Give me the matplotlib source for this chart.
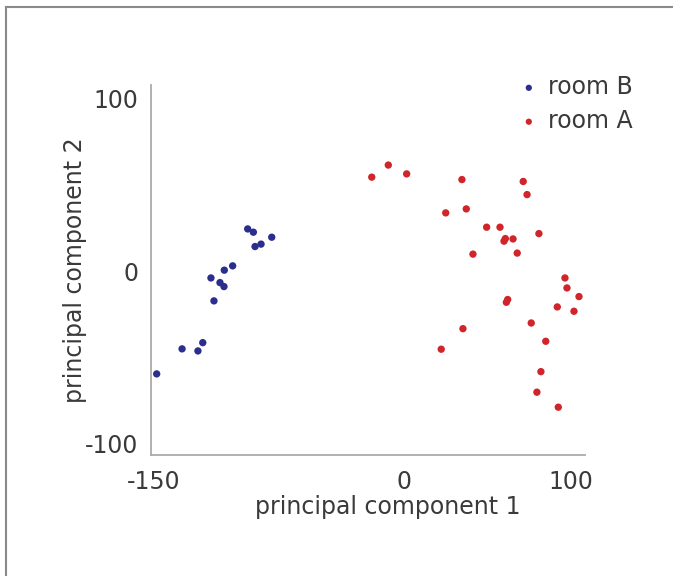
import numpy as np
import matplotlib
matplotlib.use("Agg")
import matplotlib.pyplot as plt
from matplotlib.lines import Line2D

# room B (blue) scores on the first two principal components
room_b_pc1 = [-148.1, -132.9, -123.4, -120.5, -113.8, -115.6, -110.2, -107.8,
              -107.6, -102.6, -93.6, -90.2, -89.2, -85.6, -79.2]
room_b_pc2 = [-59.4, -44.9, -46.1, -41.3, -17.1, -3.8, -6.5, -8.8,
              0.7, 3.2, 24.6, 22.7, 14.4, 15.8, 19.8]

# room A (red)
room_a_pc1 = [-19.3, -9.4, 1.6, 34.7, 71.4, 73.7, 25.0, 37.3, 49.5, 57.5,
              60.7, 59.9, 65.3, 80.8, 41.3, 67.8, 96.4, 97.6, 104.8, 91.8,
              101.8, 62.1, 61.3, 76.2, 35.3, 22.3, 84.9, 82.0, 79.6, 92.4]
room_a_pc2 = [54.6, 61.6, 56.5, 53.2, 52.1, 44.5, 33.9, 36.2, 25.6, 25.6,
              19.0, 17.5, 18.8, 21.9, 10.0, 10.6, -3.8, -9.6, -14.6, -20.6,
              -23.1, -16.3, -17.9, -29.9, -33.2, -45.1, -40.5, -58.1, -70.0, -78.7]

x_ticks = [-150, 0, 100]
y_ticks = [-100, 0, 100]

blue = "#2c2e8e"
red = "#d0252b"
text_col = "#3a3a3a"
axis_col = "#aaaaaa"

plt.rcParams["font.family"] = ["DejaVu Sans"]
plt.rcParams["axes.unicode_minus"] = False  # plain hyphen as in the original

fig = plt.figure(figsize=(6.73, 5.76), dpi=100)
ax = fig.add_axes([151 / 673, 1 - 455 / 576, 434 / 673, 370 / 576])

ax.scatter(room_b_pc1, room_b_pc2, s=28, color=blue, edgecolors="none", label="room B")
ax.scatter(room_a_pc1, room_a_pc2, s=28, color=red, edgecolors="none", label="room A")

ax.set_xlim(-151.5, 108.4)
ax.set_ylim(-106.4, 108)
ax.set_xticks(x_ticks)
ax.set_yticks(y_ticks)
ax.tick_params(length=0, labelsize=17, labelcolor=text_col)
ax.tick_params(axis="x", pad=11)
ax.tick_params(axis="y", pad=9)

for side in ["top", "right"]:
    ax.spines[side].set_visible(False)
for side in ["left", "bottom"]:
    ax.spines[side].set_color(axis_col)
    ax.spines[side].set_linewidth(1.3)

ax.set_xlabel("principal component 1", fontsize=17, color=text_col)
ax.set_ylabel("principal component 2", fontsize=17, color=text_col)
ax.xaxis.set_label_coords(0.546, -0.108)
ax.yaxis.set_label_coords(-0.147, 0.5)

ax.legend(loc="upper left", bbox_to_anchor=(517 / 673, 1 - 75 / 576),
          bbox_transform=fig.transFigure, frameon=False, fontsize=17,
          handlelength=1.0, handletextpad=0.3, labelspacing=0.42,
          borderpad=0, borderaxespad=0, markerscale=0.85, labelcolor=text_col)

# thin gray frame on the top and left edges of the picture
fig.add_artist(Line2D([6 / 673, 1], [1 - 7 / 576, 1 - 7 / 576],
                      transform=fig.transFigure, color="#8a8a8a", lw=1.5))
fig.add_artist(Line2D([6 / 673, 6 / 673], [0, 1 - 7 / 576],
                      transform=fig.transFigure, color="#8a8a8a", lw=1.5))

fig.savefig("out.png", dpi=100)
